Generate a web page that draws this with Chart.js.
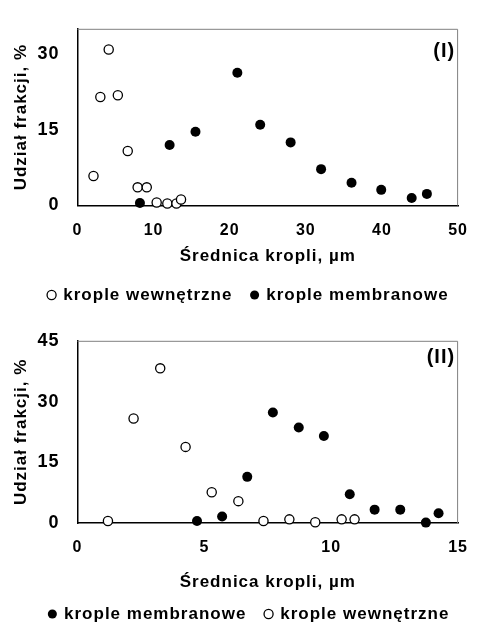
<!DOCTYPE html>
<html>
<head>
<meta charset="utf-8">
<script src="https://cdn.jsdelivr.net/npm/chart.js@4.4.1/dist/chart.umd.min.js"></script>
<style>
    html, body { margin: 0; padding: 0; background: #fff; overflow: hidden; }
    #wrap { position: relative; width: 483px; height: 625px; }
    canvas { position: absolute; left: 0; }
    #chartTop { top: 0; }
    #chartBottom { top: 312px; }
</style>
</head>
<body>
<div id="wrap">
    <canvas id="chartTop" width="483" height="314"></canvas>
    <canvas id="chartBottom" width="483" height="321"></canvas>
</div>
<script>
// Panel (I)
const topInnerX = [2.1, 3.0, 4.1, 5.3, 6.6, 7.9, 9.1, 10.4, 11.8, 13.0, 13.6];
const topInnerY = [5.85, 21.5, 30.9, 21.85, 10.8, 3.6, 3.6, 0.6, 0.4, 0.4, 1.2];
const topMembraneX = [8.2, 12.1, 15.5, 21.0, 24.0, 28.0, 32.0, 36.0, 39.9, 43.9, 45.9];
const topMembraneY = [0.5, 12.0, 14.6, 26.3, 16.0, 12.5, 7.2, 4.5, 3.1, 1.5, 2.3];
const topXTicks = [0, 10, 20, 30, 40, 50];
const topYTicks = [0, 15, 30];

// Panel (II)
const bottomInnerX = [1.2, 2.21, 3.26, 4.26, 5.29, 6.34, 7.33, 8.35, 9.37, 10.41, 10.92];
const bottomInnerY = [0.5, 25.8, 38.2, 18.8, 7.6, 5.4, 0.5, 0.9, 0.2, 0.9, 0.9];
const bottomMembraneX = [4.71, 5.70, 6.69, 7.70, 8.72, 9.71, 10.73, 11.71, 12.72, 13.73, 14.23];
const bottomMembraneY = [0.5, 1.6, 11.4, 27.3, 23.6, 21.5, 7.1, 3.3, 3.3, 0.1, 2.4];
const bottomXTicks = [0, 5, 10, 15];
const bottomYTicks = [0, 15, 30, 45];

const xTitle = "Średnica kropli, µm";
const yTitle = "Udział frakcji, %";
const innerLabel = "krople wewnętrzne";
const membraneLabel = "krople membranowe";

Chart.defaults.font.family = "'Liberation Sans', Arial, sans-serif";
Chart.defaults.color = "#000";

function toPoints(xs, ys) {
    return xs.map((x, i) => ({ x: x, y: ys[i] }));
}

function innerDataset(xs, ys) {
    return {
        label: innerLabel,
        data: toPoints(xs, ys),
        pointStyle: "circle",
        pointRadius: 4.6,
        pointBorderWidth: 1.3,
        pointBorderColor: "#000",
        pointBackgroundColor: "#fff",
        clip: false,
    };
}

function membraneDataset(xs, ys) {
    return {
        label: membraneLabel,
        data: toPoints(xs, ys),
        pointStyle: "circle",
        pointRadius: 5,
        pointBorderWidth: 0,
        pointBorderColor: "#000",
        pointBackgroundColor: "#000",
        clip: false,
    };
}

// Text in the original is slightly letter-spaced
const letterSpacing = {
    id: "letterSpacing",
    beforeUpdate(chart) { chart.ctx.letterSpacing = "1px"; },
    beforeDraw(chart) { chart.ctx.letterSpacing = "1px"; },
};

// Grey top/right frame and the panel tag
const panelFrame = {
    id: "panelFrame",
    beforeDatasetsDraw(chart) {
        const { ctx, chartArea } = chart;
        ctx.save();
        ctx.strokeStyle = "#808080";
        ctx.lineWidth = 1;
        ctx.beginPath();
        ctx.moveTo(chartArea.left, chartArea.top + 0.5);
        ctx.lineTo(chartArea.right - 0.5, chartArea.top + 0.5);
        ctx.lineTo(chartArea.right - 0.5, chartArea.bottom);
        ctx.stroke();
        ctx.restore();
    },
    afterDatasetsDraw(chart, args, opts) {
        const { ctx, chartArea } = chart;
        ctx.save();
        ctx.font = "bold 20px 'Liberation Sans', Arial, sans-serif";
        ctx.fillStyle = "#000";
        ctx.textAlign = "right";
        ctx.textBaseline = "middle";
        ctx.fillText(opts.text, chartArea.right - 3, chartArea.top + opts.dy);
        ctx.restore();
    },
};

function makeChart(id, s) {
    const ctx = document.getElementById(id).getContext("2d");
    return new Chart(ctx, {
        type: "scatter",
        data: { datasets: s.datasets },
        plugins: [letterSpacing, panelFrame],
        options: {
            responsive: false,
            animation: false,
            events: [],
            layout: { padding: s.padding },
            scales: {
                x: {
                    type: "linear",
                    min: s.xTicks[0],
                    max: s.xTicks[s.xTicks.length - 1],
                    afterBuildTicks: (axis) => { axis.ticks = s.xTicks.map((v) => ({ value: v })); },
                    afterFit: (axis) => { axis.height = s.xHeight; },
                    grid: { display: false, drawTicks: false },
                    border: { display: true, color: "#000", width: 1.5 },
                    ticks: { padding: 15, maxRotation: 0, font: { size: 16, weight: "bold" } },
                    title: {
                        display: true,
                        text: xTitle,
                        font: { size: 17, weight: "bold" },
                        padding: { top: 0, bottom: s.xTitlePad },
                    },
                },
                y: {
                    type: "linear",
                    min: 0,
                    max: s.yMax,
                    afterBuildTicks: (axis) => { axis.ticks = s.yTicks.map((v) => ({ value: v })); },
                    afterFit: (axis) => { axis.width = s.yWidth; },
                    grid: { display: false, drawTicks: false },
                    border: { display: true, color: "#000", width: 1.5 },
                    ticks: { padding: 18, font: { size: 18, weight: "bold" } },
                    title: {
                        display: true,
                        text: yTitle,
                        font: { size: 17, weight: "bold" },
                        padding: { top: s.yTitlePad, bottom: 0 },
                    },
                },
            },
            plugins: {
                tooltip: { enabled: false },
                legend: {
                    position: "bottom",
                    labels: {
                        usePointStyle: true,
                        boxWidth: 6.4,
                        boxHeight: 6.4,
                        padding: s.legendPad,
                        color: "#000",
                        font: { size: 17, weight: "bold" },
                    },
                },
                panelFrame: { text: s.tag, dy: s.tagDy },
            },
        },
    });
}

makeChart("chartTop", {
    datasets: [innerDataset(topInnerX, topInnerY), membraneDataset(topMembraneX, topMembraneY)],
    xTicks: topXTicks,
    yTicks: topYTicks,
    yMax: 35,
    padding: { top: 13, right: 13, bottom: 0.5, left: 27 },
    xHeight: 62,
    yWidth: 50.5,
    xTitlePad: 1.3,
    yTitlePad: -16.2,
    legendPad: 19,
    tag: "(I)",
    tagDy: 23,
});

makeChart("chartBottom", {
    datasets: [membraneDataset(bottomMembraneX, bottomMembraneY), innerDataset(bottomInnerX, bottomInnerY)],
    xTicks: bottomXTicks,
    yTicks: bottomYTicks,
    yMax: 45,
    padding: { top: 18, right: 13.5, bottom: 0.5, left: 29 },
    xHeight: 63.5,
    yWidth: 48.5,
    xTitlePad: -5.7,
    yTitlePad: -18.2,
    legendPad: 19,
    tag: "(II)",
    tagDy: 17,
});
</script>
</body>
</html>
